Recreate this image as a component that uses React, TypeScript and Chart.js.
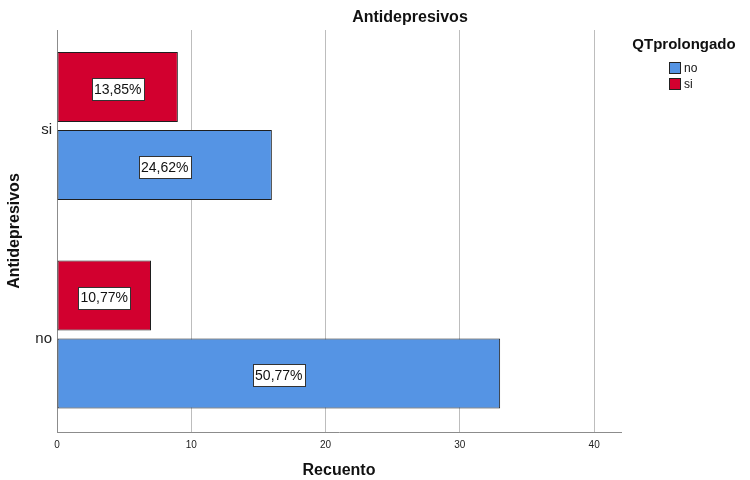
import React, { useEffect, useRef } from "react";
import { Chart, registerables } from "chart.js";

Chart.register(...registerables);

const categories = ["si", "no"];
const seriesNames = ["no", "si"];
const countsNo = [16, 33];
const countsSi = [9, 7];
const xTicks = [0, 10, 20, 30, 40];

const chartTitle = "Antidepresivos";
const legendTitle = "QTprolongado";
const xTitle = "Recuento";
const yTitle = "Antidepresivos";

const BLUE = "#5594E4";
const RED = "#D2002F";
const FONT = '"Liberation Sans", Arial, sans-serif';

const total = [...countsNo, ...countsSi].reduce((a, b) => a + b, 0);
const pct = (v: number) => ((v / total) * 100).toFixed(2).replace(".", ",") + "%";
const toPoints = (vals: number[]) => vals.map((v, i) => ({ x: v, y: i }));

const overlayPlugin = {
  id: "overlay",
  afterDatasetsDraw(chart: any) {
    const ctx = chart.ctx;
    ctx.save();
    chart.data.datasets.forEach((ds: any, di: number) => {
      const meta = chart.getDatasetMeta(di);
      meta.data.forEach((el: any, i: number) => {
        const { x, y, base } = el.getProps(["x", "y", "base"], true);
        const cx = (x + base) / 2;
        const text = pct(ds.data[i].x);
        ctx.font = `14px ${FONT}`;
        const w = Math.round(ctx.measureText(text).width + 5);
        const h = 22;
        const bx = Math.round(cx - w / 2) + 0.5;
        const by = Math.round(y - h / 2 + 2) + 0.5;
        ctx.fillStyle = "#ffffff";
        ctx.fillRect(bx, by, w, h);
        ctx.strokeStyle = "#333333";
        ctx.lineWidth = 1;
        ctx.strokeRect(bx, by, w, h);
        ctx.fillStyle = "#111111";
        ctx.textAlign = "center";
        ctx.textBaseline = "middle";
        ctx.fillText(text, cx, y + 3);
      });
    });
    ctx.restore();
  },
  afterDraw(chart: any) {
    const ctx = chart.ctx;
    ctx.save();
    ctx.fillStyle = "#111111";
    ctx.font = `bold 16px ${FONT}`;
    ctx.textAlign = "center";
    ctx.textBaseline = "middle";
    ctx.fillText(chartTitle, 410, 18);
    ctx.font = `bold 15px ${FONT}`;
    ctx.fillText(legendTitle, 684, 45);
    const colors = [BLUE, RED];
    seriesNames.forEach((name, i) => {
      const by = 62 + i * 16;
      ctx.fillStyle = colors[i];
      ctx.fillRect(669.5, by + 0.5, 11, 11);
      ctx.strokeStyle = "#222222";
      ctx.lineWidth = 1;
      ctx.strokeRect(669.5, by + 0.5, 11, 11);
      ctx.fillStyle = "#111111";
      ctx.font = `12px ${FONT}`;
      ctx.textAlign = "left";
      ctx.fillText(name, 684, by + 7);
    });
    ctx.restore();
  },
};

export default function App() {
  const ref = useRef<HTMLCanvasElement | null>(null);

  useEffect(() => {
    if (!ref.current) return;
    Chart.defaults.font.family = FONT;
    const barStyle = {
      borderColor: "#1E1E1E",
      borderWidth: 1,
      borderSkipped: false,
      categoryPercentage: 0.748,
      barPercentage: 0.897,
    };
    const chart = new Chart(ref.current, {
      type: "bar",
      data: {
        datasets: [
          { label: seriesNames[1], data: toPoints(countsSi), backgroundColor: RED, ...barStyle },
          { label: seriesNames[0], data: toPoints(countsNo), backgroundColor: BLUE, ...barStyle },
        ],
      },
      options: {
        indexAxis: "y",
        animation: false,
        responsive: false,
        layout: { padding: { top: 30, right: 129, bottom: 0, left: 0 } },
        plugins: {
          legend: { display: false },
          title: { display: false },
          tooltip: { enabled: false },
        },
        scales: {
          x: {
            type: "linear",
            min: 0,
            max: 42,
            offset: false,
            afterBuildTicks(scale: any) {
              scale.ticks = xTicks.map((v) => ({ value: v }));
            },
            afterFit(scale: any) {
              scale.height = 48;
            },
            grid: { display: true, offset: false, color: "#BDBDBD", lineWidth: 1, drawTicks: false },
            border: { display: true, color: "#8C8C8C", width: 1 },
            ticks: {
              padding: 7,
              color: "#222222",
              font: { size: 10, family: FONT },
              maxRotation: 0,
            },
            title: {
              display: true,
              text: xTitle,
              color: "#111111",
              font: { size: 16, weight: "bold", family: FONT },
              padding: { top: 0, bottom: 0 },
            },
          },
          y: {
            type: "linear",
            reverse: true,
            offset: false,
            min: -0.4604,
            max: 1.4676,
            afterBuildTicks(scale: any) {
              scale.ticks = categories.map((_, i) => ({ value: i }));
            },
            afterFit(scale: any) {
              scale.width = 57;
            },
            grid: { display: false, offset: false, drawTicks: false },
            border: { display: true, color: "#8C8C8C", width: 1 },
            ticks: {
              padding: 5,
              labelOffset: 4,
              color: "#222222",
              font: { size: 15, family: FONT },
              callback: (v: any) => categories[Math.round(Number(v))] ?? "",
            },
            title: {
              display: true,
              text: yTitle,
              color: "#111111",
              font: { size: 16, weight: "bold", family: FONT },
              padding: { top: 5, bottom: 0 },
            },
          },
        },
      },
      plugins: [overlayPlugin],
    } as any);
    return () => chart.destroy();
  }, []);

  return (
    <div style={{ position: "absolute", left: 0, top: 0, width: 750, height: 480 }}>
      <canvas ref={ref} width={750} height={480} style={{ width: 750, height: 480 }} />
    </div>
  );
}
